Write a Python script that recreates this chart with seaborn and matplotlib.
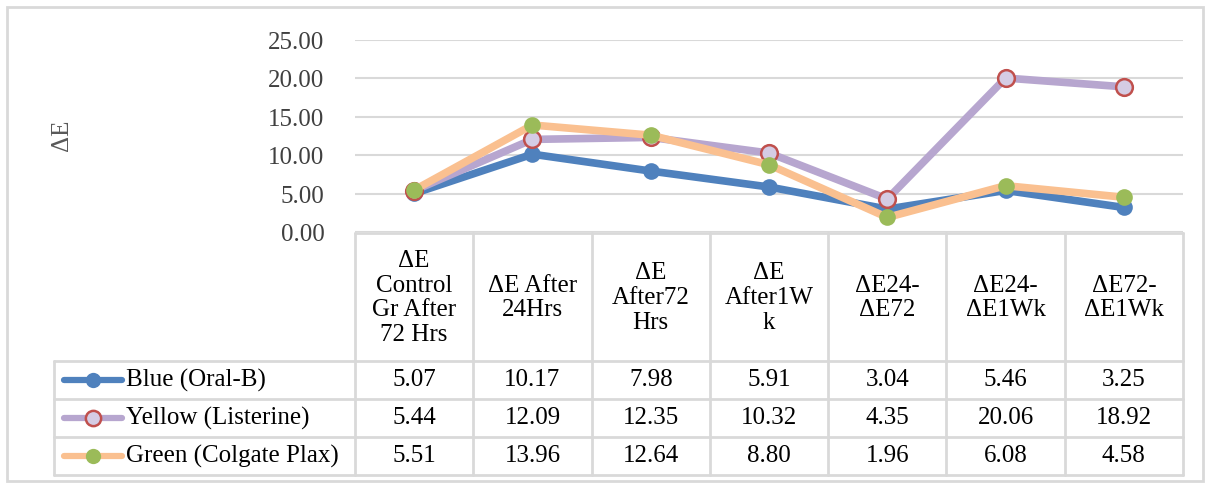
import numpy as np
import pandas as pd
import seaborn as sns
from matplotlib import pyplot as plt
from matplotlib.patches import Rectangle

categories = ["ΔE\nControl\nGr After\n72 Hrs", "ΔE After\n24Hrs", "ΔE\nAfter72\nHrs",
              "ΔE\nAfter1W\nk", "ΔE24-\nΔE72", "ΔE24-\nΔE1Wk", "ΔE72-\nΔE1Wk"]
series = ["Blue (Oral-B)", "Yellow (Listerine)", "Green (Colgate Plax)"]
blue = [5.07, 10.17, 7.98, 5.91, 3.04, 5.46, 3.25]
yellow = [5.44, 12.09, 12.35, 10.32, 4.35, 20.06, 18.92]
green = [5.51, 13.96, 12.64, 8.80, 1.96, 6.08, 4.58]
yticks = [0, 5, 10, 15, 20, 25]

# line colour, marker face, marker edge
styles = {
    "Blue (Oral-B)": ("#4f81bd", "#4f81bd", "#4f81bd"),
    "Yellow (Listerine)": ("#b7a6cf", "#d5cce4", "#c0504d"),
    "Green (Colgate Plax)": ("#fac090", "#9bbb59", "#9bbb59"),
}

sns.set_style("white")
plt.rcParams["font.family"] = "serif"
plt.rcParams["font.serif"] = ["Liberation Serif", "Times New Roman", "DejaVu Serif"]
plt.rcParams["text.color"] = "black"

rows = []
for name, vals in zip(series, [blue, yellow, green]):
    for i, v in enumerate(vals):
        rows.append({"series": name, "pos": i, "value": v})
df = pd.DataFrame(rows)

W, H = 1210, 486
fig = plt.figure(figsize=(W / 100, H / 100), dpi=100)

# overlay in pixel coordinates for the data table / frame
tab = fig.add_axes([0, 0, 1, 1])
tab.set_xlim(0, W)
tab.set_ylim(H, 0)
tab.axis("off")

x0, x1 = 355, 1183
y_top, y_zero = 40, 232.5
ax = fig.add_axes([x0 / W, (H - y_zero) / H, (x1 - x0) / W, (y_zero - y_top) / H])
ax.patch.set_alpha(0)

for name in series:
    lc, fc, ec = styles[name]
    sub = df[df["series"] == name]
    sns.lineplot(data=sub, x="pos", y="value", ax=ax, color=lc, linewidth=5.5,
                 marker="o", markersize=12, markerfacecolor=fc,
                 markeredgecolor=ec, markeredgewidth=1.8 if ec != fc else 0)

ax.set_xlim(-0.5, len(categories) - 0.5)
ax.set_ylim(0, 25)
ax.set_yticks(yticks)
ax.set_yticklabels([f"{t:.2f}" for t in yticks], fontsize=18, color="#404040")
ax.set_xticks([])
ax.set_xlabel("")
ax.set_ylabel("")
ax.grid(axis="y", color="#d9d9d9", linewidth=1.5)
ax.tick_params(axis="y", length=0, pad=22)
for s in ax.spines.values():
    s.set_visible(False)
if ax.get_legend():
    ax.get_legend().remove()

fig.text(62 / W, 1 - 135 / H, "ΔE", rotation=90, fontsize=18, color="#595959",
         ha="center", va="center")

# table geometry
gc = "#d9d9d9"
ncol = len(categories)
cw = (x1 - x0) / ncol
row_y = [361, 399, 437, 475]
left = 54
tab.plot([x0, x1], [y_zero, y_zero], color=gc, lw=2)
for r in row_y:
    tab.plot([left, x1], [r, r], color=gc, lw=2)
for j in range(ncol + 1):
    tab.plot([x0 + j * cw] * 2, [y_zero, row_y[-1]], color=gc, lw=2)
tab.plot([left, left], [row_y[0], row_y[-1]], color=gc, lw=2)

for j, c in enumerate(categories):
    tab.text(x0 + (j + 0.5) * cw, 298, c, ha="center", va="center",
             fontsize=18, linespacing=1.15)

for k, (name, vals) in enumerate(zip(series, [blue, yellow, green])):
    yc = (row_y[k] + row_y[k + 1]) / 2
    lc, fc, ec = styles[name]
    tab.plot([64, 122], [yc, yc], color=lc, lw=4.5, solid_capstyle="round")
    tab.plot([93], [yc], marker="o", markersize=11, markerfacecolor=fc,
             markeredgecolor=ec, markeredgewidth=1.8 if ec != fc else 0)
    tab.text(126, yc, name, ha="left", va="center", fontsize=18)
    for j, v in enumerate(vals):
        tab.text(x0 + (j + 0.5) * cw, yc, f"{v:.2f}", ha="center", va="center",
                 fontsize=18)

tab.add_patch(Rectangle((7, 7), 1196, 474, fill=False, edgecolor=gc, lw=2))

fig.savefig("out.png", dpi=100)
